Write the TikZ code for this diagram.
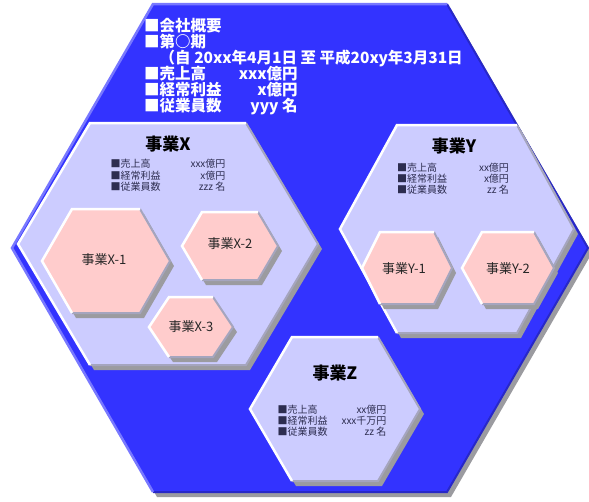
\documentclass[tikz,border=0pt]{standalone}
\usepackage{fontspec}
\setmainfont{Noto Sans CJK JP}
\usepackage{tikz}
\usetikzlibrary{positioning,calc}
\usepackage{xcolor}
\definecolor{groupblue}{RGB}{51,51,255}
\definecolor{groupedge}{RGB}{120,120,255}
\definecolor{groupdark}{RGB}{40,40,200}
\definecolor{unitlav}{RGB}{204,204,255}
\definecolor{subpink}{RGB}{255,204,204}
\definecolor{hexshadow}{RGB}{155,155,160}
\definecolor{bevelgray}{RGB}{165,165,190}
\definecolor{infotext}{RGB}{45,45,80}
\tikzset{
    hexshade/.style={fill=hexshadow},
    lightedge/.style={line width=2.5pt, line join=miter},
    darkedge/.style={line width=2pt, line join=miter},
    overview/.style={font=\fontsize{15.5}{15.6}\selectfont\bfseries, text=white, inner sep=0pt, anchor=north west, align=left},
    unittitle/.style={font=\fontsize{17}{19}\selectfont\bfseries, text=black, inner sep=0pt},
    infotable/.style={font=\fontsize{10}{11.8}\selectfont, text=infotext, inner sep=0pt, align=left},
    subtitle/.style={font=\fontsize{13}{15}\selectfont, text=black!85, inner sep=0pt}
}
% bevelled hexagon: center, half width, half height, corner inset, fill, light edge, dark edge
\newcommand{\hexcell}[7]{%
  \begin{scope}[shift={#1}]
    \fill[hexshade, shift={(4,5)}] (-#2,0) -- ({-#2+#4},-#3) -- ({#2-#4},-#3) -- (#2,0) -- ({#2-#4},#3) -- ({-#2+#4},#3) -- cycle;
    \fill[#5] (-#2,0) -- ({-#2+#4},-#3) -- ({#2-#4},-#3) -- (#2,0) -- ({#2-#4},#3) -- ({-#2+#4},#3) -- cycle;
    \draw[darkedge, #7] ({#2-#4},-#3) -- (#2,0) -- ({#2-#4},#3) -- ({-#2+#4},#3);
    \draw[lightedge, #6] ({-#2+#4},#3) -- (-#2,0) -- ({-#2+#4},-#3) -- ({#2-#4},-#3);
  \end{scope}}

\begin{document}
\begin{tikzpicture}[x=1pt, y=-1pt]
    \useasboundingbox (0,0) rectangle (589,501);

    % Whole company
    \hexcell{(300,248)}{288}{244}{141}{groupblue}{groupedge}{groupdark}
    \node[overview] (profile) at (144,18) {%
      \begin{tabular}{@{}l@{\hspace{1.1em}}r@{}}
        \multicolumn{2}{@{}l@{}}{■会社概要}\\[-2pt]
        \multicolumn{2}{@{}l@{}}{■第○期}\\[-2pt]
        \multicolumn{2}{@{}l@{}}{\rlap{　（自 20xx年4月1日 至 平成20xy年3月31日}}\\[-2pt]
        ■売上高 & xxx億円\\[-2pt]
        ■経常利益 & x億円\\[-2pt]
        ■従業員数 & yyy 名
      \end{tabular}};

    % Three businesses
    \hexcell{(168,244)}{150}{121}{72}{unitlav}{white}{bevelgray}
    \hexcell{(457,229)}{117}{104}{57}{unitlav}{white}{bevelgray}
    \hexcell{(335,409)}{85}{72}{42}{unitlav}{white}{bevelgray}

    \node[unittitle] (titleX) at (168,144) {事業X};
    \node[infotable] (infoX) at (168,177) {%
      \begin{tabular}{@{}l@{\hspace{30pt}}r@{}}
        ■売上高 & xxx億円\\[-0.5pt]
        ■経常利益 & x億円\\[-0.5pt]
        ■従業員数 & zzz 名
      \end{tabular}};

    \node[unittitle] (titleY) at (454,146) {事業Y};
    \node[infotable] (infoY) at (453,180) {%
      \begin{tabular}{@{}l@{\hspace{32pt}}r@{}}
        ■売上高 & xx億円\\[-1pt]
        ■経常利益 & x億円\\[-1pt]
        ■従業員数 & zz 名
      \end{tabular}};

    \node[unittitle] (titleZ) at (335,373) {事業Z};
    \node[infotable] (infoZ) at (332,422) {%
      \begin{tabular}{@{}l@{\hspace{14pt}}r@{}}
        ■売上高 & xx億円\\[-1.2pt]
        ■経常利益 & xxx千万円\\[-1.2pt]
        ■従業員数 & zz 名
      \end{tabular}};

    % Sub-businesses
    \hexcell{(106,261)}{64}{52}{30}{subpink}{white}{bevelgray}
    \hexcell{(230,246)}{48}{34}{20}{subpink}{white}{bevelgray}
    \hexcell{(191,327)}{42}{30}{20}{subpink}{white}{bevelgray}
    \hexcell{(407,268)}{45}{36}{18}{subpink}{white}{bevelgray}
    \hexcell{(508,268)}{46}{36}{20}{subpink}{white}{bevelgray}

    \node[subtitle] (subX1) at (104,260) {事業X-1};
    \node[subtitle] (subX2) at (230,244) {事業X-2};
    \node[subtitle] (subX3) at (191,327) {事業X-3};
    \node[subtitle] (subY1) at (404,269) {事業Y-1};
    \node[subtitle] (subY2) at (508,269) {事業Y-2};
\end{tikzpicture}
\end{document}
